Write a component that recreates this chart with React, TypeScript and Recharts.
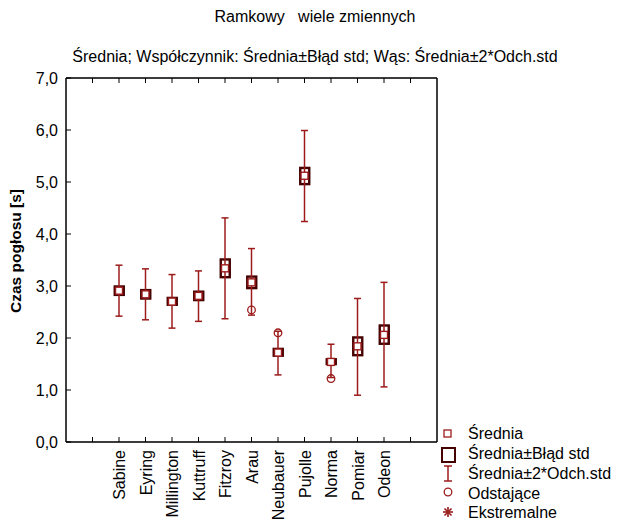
import React from 'react';
import { ComposedChart, XAxis, YAxis, CartesianGrid, Bar, Scatter, ErrorBar } from 'recharts';

const categories = ['Sabine', 'Eyring', 'Millington', 'Kuttruff', 'Fitzroy', 'Arau', 'Neubauer', 'Pujolle', 'Norma', 'Pomiar', 'Odeon'];
const slotPositions = [2, 3, 4, 5, 6, 7, 8, 9, 10, 11, 12];
const means = [2.91, 2.84, 2.70, 2.81, 3.34, 3.07, 1.72, 5.12, 1.54, 1.84, 2.06];
const seLow = [2.81, 2.74, 2.62, 2.71, 3.15, 2.94, 1.64, 4.94, 1.48, 1.65, 1.87];
const seHigh = [3.01, 2.94, 2.79, 2.91, 3.53, 3.20, 1.81, 5.29, 1.61, 2.03, 2.26];
const sdLow = [2.42, 2.35, 2.19, 2.32, 2.37, 2.44, 1.29, 4.24, 1.24, 0.90, 1.06];
const sdHigh = [3.40, 3.33, 3.22, 3.29, 4.31, 3.72, 2.13, 5.99, 1.88, 2.76, 3.07];
const outlierCategories = ['Arau', 'Neubauer', 'Norma'];
const outlierValues = [2.54, 2.10, 1.22];
const yTicks = [0, 1, 2, 3, 4, 5, 6, 7];
const xTicks = [1, 2, 3, 4, 5, 6, 7, 8, 9, 10, 11, 12, 13];
const xDomain = [0, 14];

const FONT = '"Liberation Sans", Arial, sans-serif';
const BOX_DARK = '#450000';
const RED = '#9c1c1c';

const rows = categories.map((name, i) => ({
  x: slotPositions[i],
  name,
  mean: means[i],
  se: [seLow[i], seHigh[i]],
  sdErr: [means[i] - sdLow[i], sdHigh[i] - means[i]],
}));

const outlierRows = outlierCategories.map((c, i) => ({
  x: slotPositions[categories.indexOf(c)],
  value: outlierValues[i],
}));

const labelFor = (v: number) => {
  const idx = slotPositions.indexOf(v);
  return idx >= 0 ? categories[idx] : '';
};

const XTick = (props: any) => {
  const { x, y, payload } = props;
  const label = labelFor(payload.value);
  if (!label) return <g />;
  return (
    <text
      x={x + 6}
      y={y}
      transform={`rotate(-90 ${x + 6} ${y})`}
      textAnchor="end"
      fontFamily={FONT}
      fontSize={16}
      fill="#000"
    >
      {label}
    </text>
  );
};

const YTick = (props: any) => {
  const { x, y, payload } = props;
  return (
    <text x={x} y={y + 5.5} textAnchor="end" fontFamily={FONT} fontSize={16} fill="#000">
      {payload.value.toFixed(1).replace('.', ',')}
    </text>
  );
};

const BoxShape = (props: any) => {
  const { x, y, width, height } = props;
  if (x == null || y == null) return <g />;
  return (
    <rect x={x + 1} y={y + 1} width={width - 2} height={Math.max(height - 2, 1)} fill="#fff" stroke={BOX_DARK} strokeWidth={2.4} />
  );
};

const MeanShape = (props: any) => {
  const { cx, cy } = props;
  if (cx == null || cy == null) return <g />;
  return <rect x={cx - 3.5} y={cy - 3.5} width={7} height={7} fill="#fff" stroke={RED} strokeWidth={1.4} />;
};

const OutlierShape = (props: any) => {
  const { cx, cy } = props;
  if (cx == null || cy == null) return <g />;
  return <circle cx={cx} cy={cy} r={3.8} fill="none" stroke={RED} strokeWidth={1.3} />;
};

const Empty = () => <g />;

export default function App() {
  return (
    <div style={{ position: 'absolute', left: 0, top: 0, width: 618, height: 522, background: '#fff' }}>
      <ComposedChart
        width={618}
        height={522}
        data={rows}
        margin={{ top: 77, right: 180, bottom: 10, left: 6 }}
      >
        <CartesianGrid vertical={false} stroke="#d9d9d9" strokeWidth={1} />
        <XAxis
          xAxisId="b"
          type="number"
          dataKey="x"
          domain={xDomain}
          ticks={xTicks}
          allowDataOverflow
          height={70}
          interval={0}
          tickSize={-5}
          tickMargin={13}
          tick={<XTick />}
          stroke="#000"
          axisLine={{ stroke: '#000', strokeWidth: 1.5 }}
          tickLine={{ stroke: '#000' }}
        />
        <XAxis
          xAxisId="t"
          orientation="top"
          type="number"
          dataKey="x"
          domain={xDomain}
          ticks={xTicks}
          allowDataOverflow
          height={1}
          interval={0}
          tickSize={-5}
          tickFormatter={() => ''}
          axisLine={{ stroke: '#000', strokeWidth: 1.5 }}
          tickLine={{ stroke: '#000' }}
        />
        <YAxis
          yAxisId="l"
          type="number"
          domain={[0, 7]}
          ticks={yTicks}
          width={60}
          interval={0}
          tickSize={-5}
          tickMargin={13}
          tick={<YTick />}
          axisLine={{ stroke: '#000', strokeWidth: 1.5 }}
          tickLine={{ stroke: '#000' }}
        />
        <YAxis
          yAxisId="r"
          orientation="right"
          type="number"
          domain={[0, 7]}
          ticks={yTicks}
          width={1}
          interval={0}
          tickSize={-5}
          tickFormatter={() => ''}
          axisLine={{ stroke: '#000', strokeWidth: 1.5 }}
          tickLine={{ stroke: '#000' }}
        />
        <Scatter
          xAxisId="b"
          yAxisId="l"
          data={rows}
          dataKey="mean"
          shape={<Empty />}
          isAnimationActive={false}
        >
          <ErrorBar dataKey="sdErr" direction="y" width={3.5} stroke={RED} strokeWidth={1.5} isAnimationActive={false} />
        </Scatter>
        <Bar
          xAxisId="b"
          yAxisId="l"
          dataKey="se"
          barSize={11}
          shape={<BoxShape />}
          isAnimationActive={false}
        />
        <Scatter
          xAxisId="b"
          yAxisId="l"
          data={rows}
          dataKey="mean"
          shape={<MeanShape />}
          isAnimationActive={false}
        />
        <Scatter
          xAxisId="b"
          yAxisId="l"
          data={outlierRows}
          dataKey="value"
          shape={<OutlierShape />}
          isAnimationActive={false}
        />
      </ComposedChart>
      <svg
        width={618}
        height={522}
        style={{ position: 'absolute', left: 0, top: 0, pointerEvents: 'none' }}
        fontFamily={FONT}
      >
        <text x={315} y={22} textAnchor="middle" fontSize={16} fill="#000" style={{ whiteSpace: 'pre' }}>
          {'Ramkowy   wiele zmiennych'}
        </text>
        <text x={315} y={62} textAnchor="middle" fontSize={16} fill="#000">
          Średnia; Współczynnik: Średnia±Błąd std; Wąs: Średnia±2*Odch.std
        </text>
        <text
          x={21}
          y={251}
          transform="rotate(-90 21 251)"
          textAnchor="middle"
          fontSize={15.5}
          fontWeight="bold"
          fill="#000"
        >
          Czas pogłosu [s]
        </text>
        {/* legend */}
        <rect x={444} y={430} width={7} height={7} fill="#fff" stroke={RED} strokeWidth={1.3} />
        <text x={468} y={439} fontSize={16} fill="#000">Średnia</text>
        <rect x={442} y={448} width={13} height={14} fill="#fff" stroke={BOX_DARK} strokeWidth={2} />
        <text x={468} y={459} fontSize={16} fill="#000">Średnia±Błąd std</text>
        <line x1={448} y1={466} x2={448} y2={481} stroke={RED} strokeWidth={1.5} />
        <line x1={444} y1={466} x2={452} y2={466} stroke={RED} strokeWidth={1.5} />
        <line x1={444} y1={481} x2={452} y2={481} stroke={RED} strokeWidth={1.5} />
        <text x={468} y={479} fontSize={16} fill="#000">Średnia±2*Odch.std</text>
        <circle cx={448} cy={492} r={3.8} fill="none" stroke={RED} strokeWidth={1.3} />
        <text x={468} y={499} fontSize={16} fill="#000">Odstające</text>
        <g stroke={RED} strokeWidth={1.6}>
          <line x1={448} y1={507} x2={448} y2={517} />
          <line x1={443} y1={512} x2={453} y2={512} />
          <line x1={444.5} y1={508.5} x2={451.5} y2={515.5} />
          <line x1={444.5} y1={515.5} x2={451.5} y2={508.5} />
        </g>
        <text x={468} y={518} fontSize={16} fill="#000">Ekstremalne</text>
      </svg>
    </div>
  );
}
